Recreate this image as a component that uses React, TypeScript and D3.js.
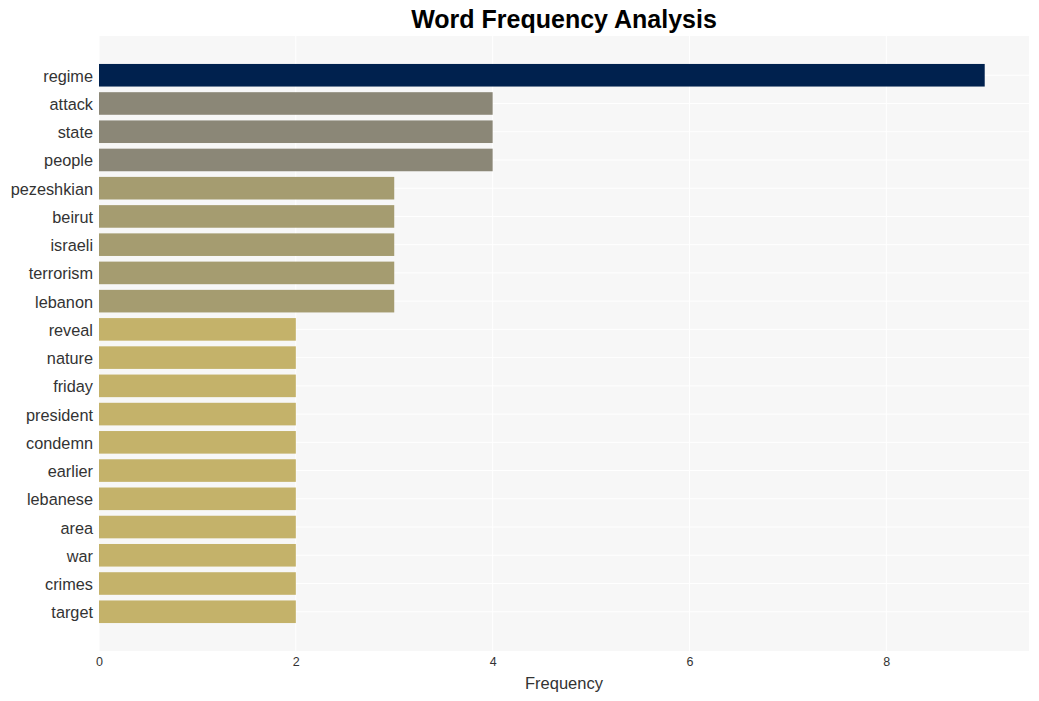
import { useEffect, useRef } from 'react';
import { select, scaleLinear, scaleBand, axisBottom, axisLeft } from 'd3';

const words = ['regime', 'attack', 'state', 'people', 'pezeshkian', 'beirut', 'israeli', 'terrorism', 'lebanon', 'reveal', 'nature', 'friday', 'president', 'condemn', 'earlier', 'lebanese', 'area', 'war', 'crimes', 'target'];
const counts = [9, 4, 4, 4, 3, 3, 3, 3, 3, 2, 2, 2, 2, 2, 2, 2, 2, 2, 2, 2];
const xTicks = [0, 2, 4, 6, 8];
const colorByCount: Record<number, string> = { 9: '#00214e', 4: '#8b8777', 3: '#a59c70', 2: '#c4b26a' };

const W = 1039, H = 701;
const margin = { top: 36, right: 10, bottom: 50, left: 99 };

export default function App() {
  const svgRef = useRef<SVGSVGElement>(null);

  useEffect(() => {
    if (svgRef.current == null) return;
    const svg = select(svgRef.current);
    svg.selectAll('*').remove();

    const x = scaleLinear().domain([0, 9 * 1.05]).range([margin.left, W - margin.right]);
    const y = scaleBand<string>().domain(words).range([margin.top, H - margin.bottom]).paddingInner(0.2).paddingOuter(0.99);

    const font = '"Liberation Sans", Arial, sans-serif';

    svg.append('rect')
      .attr('x', margin.left).attr('y', margin.top)
      .attr('width', W - margin.right - margin.left).attr('height', H - margin.bottom - margin.top)
      .attr('fill', '#f7f7f7');

    // grid
    const g = svg.append('g');
    g.selectAll('line.vx').data(xTicks).enter().append('line')
      .attr('x1', d => x(d)).attr('x2', d => x(d))
      .attr('y1', margin.top).attr('y2', H - margin.bottom)
      .attr('stroke', '#ffffff').attr('stroke-width', 1);
    g.selectAll('line.hy').data(words).enter().append('line')
      .attr('x1', margin.left).attr('x2', W - margin.right)
      .attr('y1', d => y(d)! + y.bandwidth() / 2).attr('y2', d => y(d)! + y.bandwidth() / 2)
      .attr('stroke', '#ffffff').attr('stroke-width', 1);

    svg.append('g').selectAll('rect').data(words).enter().append('rect')
      .attr('x', x(0))
      .attr('y', d => y(d)!)
      .attr('width', (_, i) => x(counts[i]) - x(0))
      .attr('height', y.bandwidth())
      .attr('fill', (_, i) => colorByCount[counts[i]]);

    const xa = svg.append('g')
      .attr('transform', `translate(0,${H - margin.bottom})`)
      .call(axisBottom(x).tickValues(xTicks).tickSize(0).tickPadding(6).tickFormat(d => `${d}`));
    xa.select('.domain').remove();
    xa.selectAll('text').attr('font-family', font).attr('font-size', 12.5).attr('fill', '#333');

    const ya = svg.append('g')
      .attr('transform', `translate(${margin.left},0)`)
      .call(axisLeft(y).tickSize(0).tickPadding(6));
    ya.select('.domain').remove();
    ya.selectAll('text').attr('font-family', font).attr('font-size', 16.3).attr('fill', '#333').attr('dy', '0.4em');

    svg.append('text')
      .attr('x', (margin.left + W - margin.right) / 2).attr('y', 689)
      .attr('text-anchor', 'middle').attr('font-family', font).attr('font-size', 16.5).attr('fill', '#333')
      .text('Frequency');

    svg.append('text')
      .attr('x', (margin.left + W - margin.right) / 2).attr('y', 28)
      .attr('text-anchor', 'middle').attr('font-family', font).attr('font-size', 25).attr('font-weight', 'bold').attr('fill', '#000')
      .text('Word Frequency Analysis');
  }, []);

  return (
    <svg ref={svgRef} width={W} height={H} style={{ position: 'absolute', left: 0, top: 0, background: '#fff' }} />
  );
}
